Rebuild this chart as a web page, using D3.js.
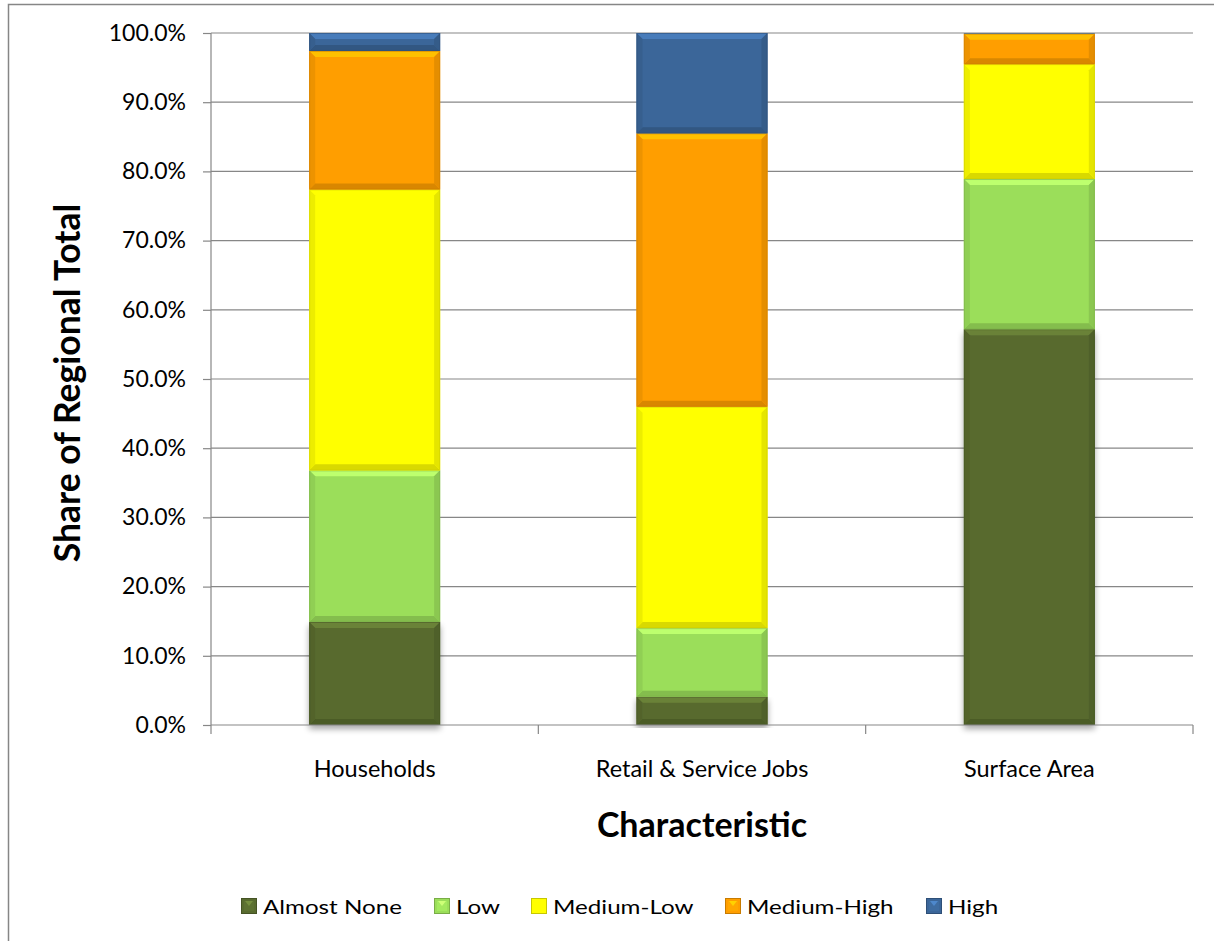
<!DOCTYPE html>
<html><head><meta charset="utf-8">
<script src="https://cdn.jsdelivr.net/npm/d3@7/dist/d3.min.js"></script>
<style>body{margin:0;background:#fff;} svg{display:block;}</style>
</head><body>
<svg id="c" width="1214" height="941"></svg>
<script>
const categories = ["Households", "Retail & Service Jobs", "Surface Area"];
const seriesNames = ["Almost None", "Low", "Medium-Low", "Medium-High", "High"];
const almostNone = [14.9, 4.1, 57.2];
const low = [21.9, 9.9, 21.7];
const mediumLow = [40.6, 32.0, 16.6];
const mediumHigh = [20.0, 39.5, 4.4];
const high = [2.6, 14.5, 0.1];
const yTicks = [0, 10, 20, 30, 40, 50, 60, 70, 80, 90, 100];
const colors = ["#586b2f", "#9bde5a", "#ffff00", "#ff9e00", "#3b6699"];

const seriesValues = [almostNone, low, mediumLow, mediumHigh, high];
const data = categories.map((c, i) => {
  const o = {cat: c};
  seriesNames.forEach((s, j) => o[s] = seriesValues[j][i]);
  return o;
});
const stacked = d3.stack().keys(seriesNames)(data);

const svg = d3.select("#c");
const font = "Lato, 'Open Sans', sans-serif";
const L = 211, R = 1193, T = 33, B = 725;

svg.append("rect").attr("x", 8.5).attr("y", 4.5).attr("width", 1300).attr("height", 1300)
  .attr("fill", "none").attr("stroke", "#868686").attr("stroke-width", 1.5);

const x = d3.scaleBand().domain(categories).range([L, R]).paddingInner(0.6).paddingOuter(0.3);
const y = d3.scaleLinear().domain([0, 100]).range([B, T]);

// gridlines
svg.append("g").selectAll("line").data(yTicks.filter(d => d > 0)).join("line")
  .attr("x1", L).attr("x2", R).attr("y1", d => y(d)).attr("y2", d => y(d))
  .attr("stroke", "#878787").attr("stroke-width", 1.2);

const defs = svg.append("defs");
const f = defs.append("filter").attr("id", "sh").attr("x", "-10%").attr("y", "-10%").attr("width", "120%").attr("height", "120%");
f.append("feGaussianBlur").attr("in", "SourceAlpha").attr("stdDeviation", 3);
f.append("feOffset").attr("dx", 0).attr("dy", 4).attr("result", "b");
f.append("feComponentTransfer").append("feFuncA").attr("type", "linear").attr("slope", 0.35);
const fm = f.append("feMerge"); fm.append("feMergeNode"); fm.append("feMergeNode").attr("in", "SourceGraphic");

const bw = x.bandwidth();
const bars = svg.append("g");
stacked.forEach((layer, j) => {
  layer.forEach((d, i) => {
    const x0 = x(categories[i]), x1 = x0 + bw;
    const yt = y(d[1]), yb = y(d[0]);
    const h = yb - yt;
    if (h <= 0) return;
    const g = bars.append("g").attr("filter", j === 0 ? "url(#sh)" : null);
    const c = d3.color(colors[j]);
    g.append("rect").attr("x", x0).attr("y", yt).attr("width", bw).attr("height", h).attr("fill", colors[j]);
    if (h < 4) return;
    const e = Math.min(6, h / 2);
    const poly = (pts, fill) => g.append("polygon").attr("points", pts.map(p => p.join(",")).join(" ")).attr("fill", fill);
    poly([[x0, yt], [x1, yt], [x1 - e, yt + e], [x0 + e, yt + e]], c.brighter(0.55).formatHex());
    poly([[x0, yb], [x1, yb], [x1 - e, yb - e], [x0 + e, yb - e]], c.darker(0.45).formatHex());
    poly([[x0, yt], [x0 + e, yt + e], [x0 + e, yb - e], [x0, yb]], c.darker(0.2).formatHex());
    poly([[x1, yt], [x1 - e, yt + e], [x1 - e, yb - e], [x1, yb]], c.darker(0.3).formatHex());
    g.append("rect").attr("x", x0 + 0.5).attr("y", yt + 0.5).attr("width", bw - 1).attr("height", Math.max(0, h - 1))
      .attr("fill", "none").attr("stroke", c.darker(0.6).formatHex()).attr("stroke-opacity", 0.6);
  });
});

// y axis
const yAxis = svg.append("g").attr("transform", `translate(${L},0)`)
  .call(d3.axisLeft(y).tickValues(yTicks).tickSize(8).tickPadding(17).tickFormat(d => d.toFixed(1) + "%"));
yAxis.select(".domain").attr("stroke", "#878787").attr("stroke-width", 1.2).attr("d", `M0,${T}V${B}`);
yAxis.selectAll(".tick line").attr("stroke", "#878787").attr("stroke-width", 1.2);
yAxis.selectAll("text").attr("font-family", font).attr("font-size", 23).attr("fill", "#000");

// x axis
const xAxis = svg.append("g").attr("transform", `translate(0,${B})`)
  .call(d3.axisBottom(x).tickSize(0).tickPadding(0));
xAxis.select(".domain").attr("stroke", "#878787").attr("stroke-width", 1.2).attr("d", `M${L},0H${R}`);
xAxis.selectAll("text").attr("font-family", font).attr("font-size", 23.5).attr("fill", "#000")
  .attr("dy", null).attr("y", 52);
const bounds = [0, 1, 2, 3].map(k => L + k * (R - L) / 3);
svg.append("g").selectAll("line").data(bounds).join("line")
  .attr("x1", d => d).attr("x2", d => d).attr("y1", B).attr("y2", B + 9)
  .attr("stroke", "#878787").attr("stroke-width", 1.2);

// titles
svg.append("text").attr("x", (L + R) / 2).attr("y", 837).attr("text-anchor", "middle")
  .attr("font-family", font).attr("font-weight", "bold").attr("font-size", 34).text("Characteristic");
svg.append("text").attr("transform", `translate(80,383) rotate(-90)`).attr("text-anchor", "middle")
  .attr("font-family", font).attr("font-weight", "bold").attr("font-size", 35.5).text("Share of Regional Total");

// legend
const legX = [241, 434, 531, 725, 926];
const leg = svg.append("g");
const legTexts = [];
seriesNames.forEach((s, j) => {
  const g = leg.append("g").attr("transform", `translate(${legX[j]},898)`);
  const c = d3.color(colors[j]);
  g.append("rect").attr("x", 0.5).attr("y", 0.5).attr("width", 15).attr("height", 15).attr("fill", colors[j]).attr("stroke", c.darker(0.7).formatHex());
  g.append("rect").attr("x", 3).attr("y", 3).attr("width", 10).attr("height", 10).attr("fill", c.brighter(0.15).formatHex());
  g.append("polygon").attr("points", "4,3 12,3 8,8").attr("fill", c.brighter(0.8).formatHex());
  legTexts.push(g.append("text").attr("x", 0).attr("y", 0).attr("font-family", font).attr("font-size", 20).text(s));
});
const w0 = legTexts[0].node().getComputedTextLength();
const k = 139 / w0;
legTexts.forEach(t => t.attr("transform", `translate(22,15.5) scale(${k},1)`));
</script>
</body></html>
